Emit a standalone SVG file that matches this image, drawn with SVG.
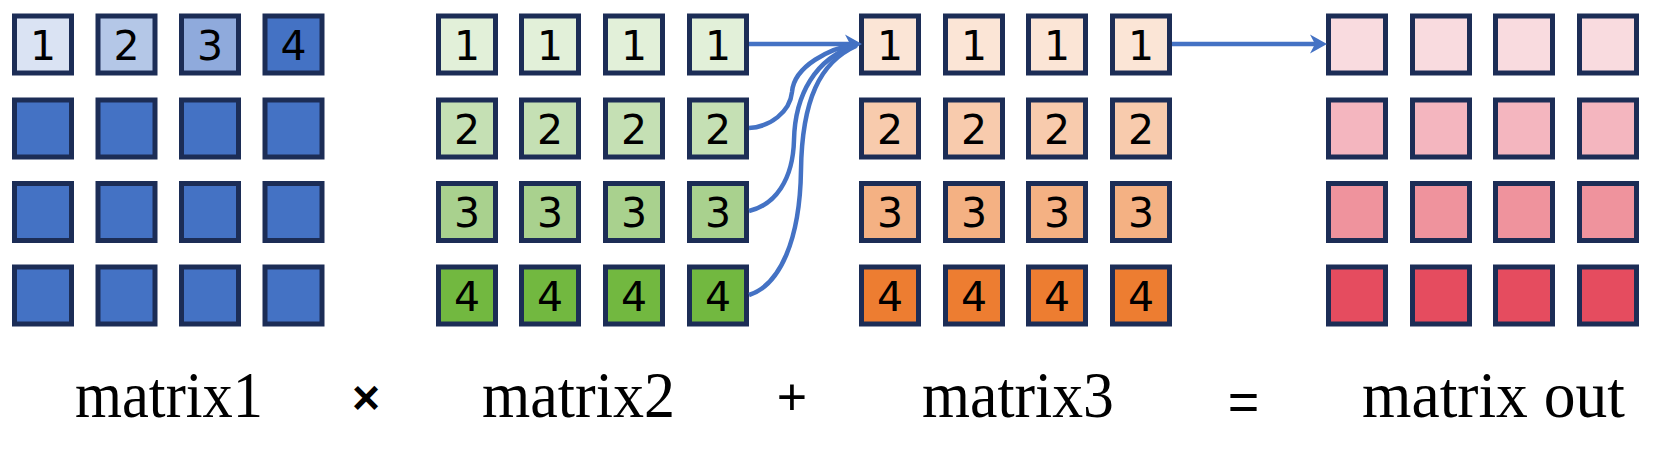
<svg xmlns="http://www.w3.org/2000/svg" width="1665" height="472" viewBox="0 0 1665 472">
<style>
.c rect{stroke:#1C2D56;stroke-width:5}
.d{font-family:"DejaVu Sans","Liberation Sans",sans-serif;font-size:41px;fill:#000;text-anchor:middle}
.lbl{font-family:"Liberation Serif","Times New Roman",serif;font-size:65px;fill:#000}
.op{font-family:"Liberation Sans",Arial,sans-serif;fill:#000;text-anchor:middle}
.conn path{fill:none;stroke:#4472C4;stroke-width:4.5}
</style>
<defs>
<marker id="ah" markerUnits="userSpaceOnUse" viewBox="-8 -10 22 20" markerWidth="22" markerHeight="20" refX="0" refY="0" orient="auto">
<path d="M12,0 L-5,-9.5 L0,0 L-5,9.5 Z" fill="#4472C4"/>
</marker>
</defs>
<rect width="1665" height="472" fill="#fff"/>

<!-- matrix1 -->
<g id="matrix1" class="c">
<rect x="14.5" y="16" width="57" height="57" fill="#DAE3F3"/>
<rect x="98" y="16" width="57" height="57" fill="#B4C7E7"/>
<rect x="181.5" y="16" width="57" height="57" fill="#8FAADC"/>
<rect x="265" y="16" width="57" height="57" fill="#4472C4"/>
<rect x="14.5" y="100" width="57" height="57" fill="#4472C4"/>
<rect x="98" y="100" width="57" height="57" fill="#4472C4"/>
<rect x="181.5" y="100" width="57" height="57" fill="#4472C4"/>
<rect x="265" y="100" width="57" height="57" fill="#4472C4"/>
<rect x="14.5" y="183.5" width="57" height="57" fill="#4472C4"/>
<rect x="98" y="183.5" width="57" height="57" fill="#4472C4"/>
<rect x="181.5" y="183.5" width="57" height="57" fill="#4472C4"/>
<rect x="265" y="183.5" width="57" height="57" fill="#4472C4"/>
<rect x="14.5" y="267" width="57" height="57" fill="#4472C4"/>
<rect x="98" y="267" width="57" height="57" fill="#4472C4"/>
<rect x="181.5" y="267" width="57" height="57" fill="#4472C4"/>
<rect x="265" y="267" width="57" height="57" fill="#4472C4"/>
<text class="d" x="43" y="59.5">1</text>
<text class="d" x="126.5" y="59.5">2</text>
<text class="d" x="210" y="59.5">3</text>
<text class="d" x="293.5" y="59.5">4</text>
</g>

<!-- matrix2 -->
<g id="matrix2" class="c">
<rect x="438.5" y="16" width="57" height="57" fill="#E2F0D9"/>
<rect x="521.5" y="16" width="57" height="57" fill="#E2F0D9"/>
<rect x="605.5" y="16" width="57" height="57" fill="#E2F0D9"/>
<rect x="689.5" y="16" width="57" height="57" fill="#E2F0D9"/>
<rect x="438.5" y="100" width="57" height="57" fill="#C5E0B4"/>
<rect x="521.5" y="100" width="57" height="57" fill="#C5E0B4"/>
<rect x="605.5" y="100" width="57" height="57" fill="#C5E0B4"/>
<rect x="689.5" y="100" width="57" height="57" fill="#C5E0B4"/>
<rect x="438.5" y="183.5" width="57" height="57" fill="#A9D18E"/>
<rect x="521.5" y="183.5" width="57" height="57" fill="#A9D18E"/>
<rect x="605.5" y="183.5" width="57" height="57" fill="#A9D18E"/>
<rect x="689.5" y="183.5" width="57" height="57" fill="#A9D18E"/>
<rect x="438.5" y="267" width="57" height="57" fill="#72B840"/>
<rect x="521.5" y="267" width="57" height="57" fill="#72B840"/>
<rect x="605.5" y="267" width="57" height="57" fill="#72B840"/>
<rect x="689.5" y="267" width="57" height="57" fill="#72B840"/>
<text class="d" x="467" y="59.5">1</text><text class="d" x="550" y="59.5">1</text><text class="d" x="634" y="59.5">1</text><text class="d" x="718" y="59.5">1</text>
<text class="d" x="467" y="143.5">2</text><text class="d" x="550" y="143.5">2</text><text class="d" x="634" y="143.5">2</text><text class="d" x="718" y="143.5">2</text>
<text class="d" x="467" y="227">3</text><text class="d" x="550" y="227">3</text><text class="d" x="634" y="227">3</text><text class="d" x="718" y="227">3</text>
<text class="d" x="467" y="310.5">4</text><text class="d" x="550" y="310.5">4</text><text class="d" x="634" y="310.5">4</text><text class="d" x="718" y="310.5">4</text>
</g>

<!-- matrix3 -->
<g id="matrix3" class="c">
<rect x="861.5" y="16" width="57" height="57" fill="#FBE5D6"/>
<rect x="945.5" y="16" width="57" height="57" fill="#FBE5D6"/>
<rect x="1028.5" y="16" width="57" height="57" fill="#FBE5D6"/>
<rect x="1112.5" y="16" width="57" height="57" fill="#FBE5D6"/>
<rect x="861.5" y="100" width="57" height="57" fill="#F8CBAD"/>
<rect x="945.5" y="100" width="57" height="57" fill="#F8CBAD"/>
<rect x="1028.5" y="100" width="57" height="57" fill="#F8CBAD"/>
<rect x="1112.5" y="100" width="57" height="57" fill="#F8CBAD"/>
<rect x="861.5" y="183.5" width="57" height="57" fill="#F4B183"/>
<rect x="945.5" y="183.5" width="57" height="57" fill="#F4B183"/>
<rect x="1028.5" y="183.5" width="57" height="57" fill="#F4B183"/>
<rect x="1112.5" y="183.5" width="57" height="57" fill="#F4B183"/>
<rect x="861.5" y="267" width="57" height="57" fill="#ED7D31"/>
<rect x="945.5" y="267" width="57" height="57" fill="#ED7D31"/>
<rect x="1028.5" y="267" width="57" height="57" fill="#ED7D31"/>
<rect x="1112.5" y="267" width="57" height="57" fill="#ED7D31"/>
<text class="d" x="890" y="59.5">1</text><text class="d" x="974" y="59.5">1</text><text class="d" x="1057" y="59.5">1</text><text class="d" x="1141" y="59.5">1</text>
<text class="d" x="890" y="143.5">2</text><text class="d" x="974" y="143.5">2</text><text class="d" x="1057" y="143.5">2</text><text class="d" x="1141" y="143.5">2</text>
<text class="d" x="890" y="227">3</text><text class="d" x="974" y="227">3</text><text class="d" x="1057" y="227">3</text><text class="d" x="1141" y="227">3</text>
<text class="d" x="890" y="310.5">4</text><text class="d" x="974" y="310.5">4</text><text class="d" x="1057" y="310.5">4</text><text class="d" x="1141" y="310.5">4</text>
</g>

<!-- matrix out -->
<g id="matrixout" class="c">
<rect x="1328.5" y="16" width="57" height="57" fill="#F9DBDF"/>
<rect x="1412.5" y="16" width="57" height="57" fill="#F9DBDF"/>
<rect x="1495.5" y="16" width="57" height="57" fill="#F9DBDF"/>
<rect x="1579.5" y="16" width="57" height="57" fill="#F9DBDF"/>
<rect x="1328.5" y="100" width="57" height="57" fill="#F4B6BF"/>
<rect x="1412.5" y="100" width="57" height="57" fill="#F4B6BF"/>
<rect x="1495.5" y="100" width="57" height="57" fill="#F4B6BF"/>
<rect x="1579.5" y="100" width="57" height="57" fill="#F4B6BF"/>
<rect x="1328.5" y="183.5" width="57" height="57" fill="#EF939D"/>
<rect x="1412.5" y="183.5" width="57" height="57" fill="#EF939D"/>
<rect x="1495.5" y="183.5" width="57" height="57" fill="#EF939D"/>
<rect x="1579.5" y="183.5" width="57" height="57" fill="#EF939D"/>
<rect x="1328.5" y="267" width="57" height="57" fill="#E54C5F"/>
<rect x="1412.5" y="267" width="57" height="57" fill="#E54C5F"/>
<rect x="1495.5" y="267" width="57" height="57" fill="#E54C5F"/>
<rect x="1579.5" y="267" width="57" height="57" fill="#E54C5F"/>
</g>

<!-- connectors -->
<g id="connectors" class="conn">
<path d="M749,44 L850,44" marker-end="url(#ah)"/>
<path d="M749,128 C770,127 790,112 792,92 C794,66 830,48 857,44"/>
<path d="M749,211 C775,205 793,180 794,140 C795,95 815,58 857,45"/>
<path d="M749,295 C780,285 800,240 801,170 C802,100 820,62 856,46"/>
<path d="M1172,44 L1315,44" marker-end="url(#ah)"/>
</g>

<!-- labels -->
<g id="labels">
<text class="lbl" x="75" y="417" textLength="188" lengthAdjust="spacingAndGlyphs">matrix1</text>
<text class="op" x="366" y="414" font-size="48" font-weight="bold">×</text>
<text class="lbl" x="482" y="417" textLength="193" lengthAdjust="spacingAndGlyphs">matrix2</text>
<text class="op" x="792" y="414.5" font-size="52">+</text>
<text class="lbl" x="922" y="417" textLength="192" lengthAdjust="spacingAndGlyphs">matrix3</text>
<text class="op" x="1243.5" y="419.5" font-size="54">=</text>
<text class="lbl" x="1362" y="417" textLength="263" lengthAdjust="spacingAndGlyphs">matrix out</text>
</g>
</svg>
